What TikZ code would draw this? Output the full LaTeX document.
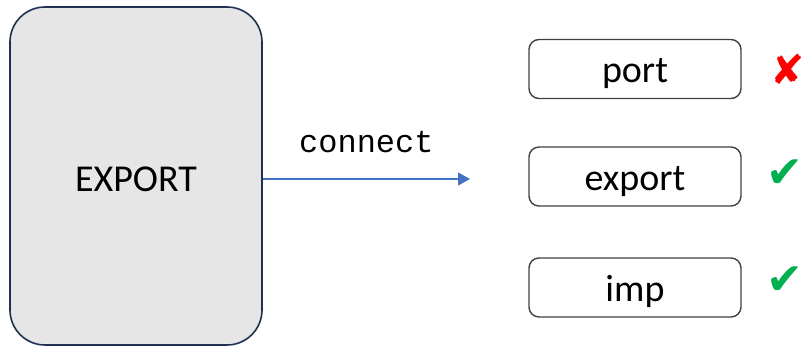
\documentclass[tikz,border=0pt]{standalone}
\usepackage{fontspec}
\setmainfont{Carlito}
\setmonofont{Liberation Mono}
\newfontfamily\zeichenfont{DejaVu Sans}
\usetikzlibrary{arrows.meta}
\definecolor{modulgrau}{HTML}{E6E6E6}
\definecolor{modulrand}{HTML}{1F3050}
\definecolor{pfeilblau}{HTML}{4472C4}
\definecolor{okgruen}{HTML}{00B050}

\begin{document}
\begin{tikzpicture}[x=1pt,y=-1pt,
	modul/.style={draw=modulrand, fill=modulgrau, line width=1.6pt,
		rounded corners=35pt, minimum width=252pt, minimum height=338pt,
		text height=38pt, text depth=6pt, font=\fontsize{38}{40}\selectfont},
	wort/.style={draw=black!75, line width=1.4pt, rounded corners=10pt,
		minimum width=212pt, minimum height=59pt,
		text height=36pt, text depth=8pt, font=\fontsize{38}{40}\selectfont},
	marke/.style={anchor=west, inner sep=0pt, font=\zeichenfont\fontsize{44}{44}\selectfont}]
	\useasboundingbox (0,0) rectangle (804,347);
	% Modul
	\node[modul] (exp) at (136,176) {EXPORT};
	% Namen
	\node[wort] (port) at (635,69) {port};
	\node[wort] (export) at (635,176.5) {export};
	\node[wort] (imp) at (635,287.5) {imp};
	% Bewertung
	\node[marke, red, font=\zeichenfont\fontsize{41}{41}\selectfont] (nein) at (770,69) {✘};
	\node[marke, okgruen] (ja1) at (766,174) {✔};
	\node[marke, okgruen] (ja2) at (766,281) {✔};
	% Verbindung
	\coordinate (ziel) at (470,179);
	\draw[-{Triangle[length=12pt,width=13pt]}, pfeilblau, line width=1.1pt]
		(exp.east |- ziel) -- (ziel)
		node[midway, anchor=base, yshift=26pt, text=black, font=\ttfamily\fontsize{32}{34}\selectfont] (verb) {connect};
\end{tikzpicture}
\end{document}
